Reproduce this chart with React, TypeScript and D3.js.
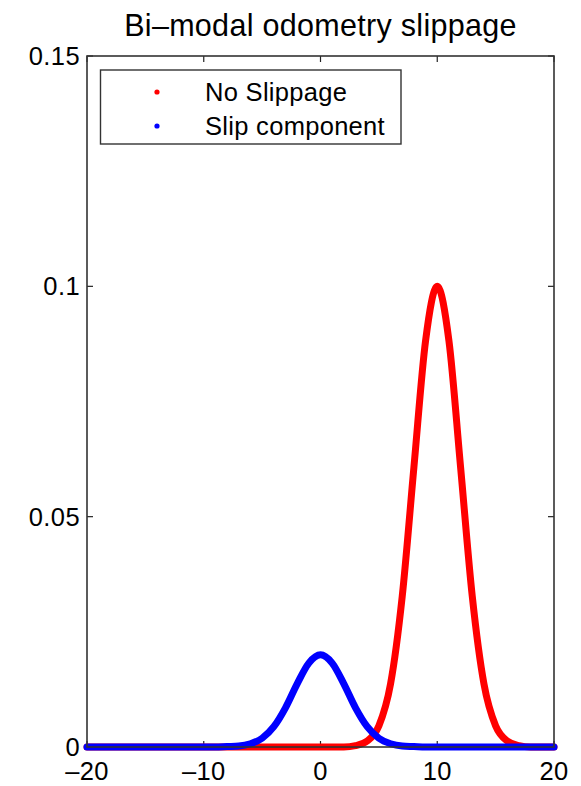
import React from "react";
import * as d3 from "d3";

// values
const xValues = [
  -20, -19, -18, -17, -16, -15, -14, -13, -12, -11, -10, -9, -8, -7, -6, -5, -4, -3, -2, -1,
  0, 1, 2, 3, 4, 5, 6, 7, 8, 9, 10, 11, 12, 13, 14, 15, 16, 17, 18, 19, 20,
];
const noSlippage = [
  0, 0, 0, 0, 0, 0, 0, 0, 0, 0, 0, 0, 0, 0, 0, 0, 0, 0, 0, 0,
  0, 0, 0, 0.0003, 0.0013, 0.0046, 0.0137, 0.0327, 0.0607, 0.0882, 0.1, 0.0882, 0.0607, 0.0327, 0.0137, 0.0046, 0.0013, 0.0003, 0, 0, 0,
];
const slipComponent = [
  0, 0, 0, 0, 0, 0, 0, 0, 0, 0, 0, 0, 0.0001, 0.0002, 0.0007, 0.0019, 0.0044, 0.0085, 0.0137, 0.0182,
  0.02, 0.0182, 0.0137, 0.0085, 0.0044, 0.0019, 0.0007, 0.0002, 0.0001, 0, 0, 0, 0, 0, 0, 0, 0, 0, 0, 0, 0,
];
const seriesNames = ["No Slippage", "Slip component"];
const seriesColors = ["#ff0000", "#0000ff"];
const xTicks = [-20, -10, 0, 10, 20];
const yTicks = [0, 0.05, 0.1, 0.15];
const title = "Bi\u2013modal odometry slippage";

const W = 581;
const H = 786;
const left = 87;
const right = 554;
const top = 56;
const bottom = 747;
const font = "'Liberation Sans', Arial, Helvetica, sans-serif";
const tickLen = 6;

const fmtX = (v: number) => (v < 0 ? "\u2013" + Math.abs(v) : String(v));
const fmtY = (v: number) => (v === 0 ? "0" : String(v));

export default function App() {
  const x = d3.scaleLinear().domain([-20, 20]).range([left, right]);
  const y = d3.scaleLinear().domain([0, 0.15]).range([bottom, top]);

  const line = d3
    .line<number>()
    .x((_, i) => x(xValues[i]))
    .y((d) => y(d))
    .curve(d3.curveMonotoneX);

  const series = [noSlippage, slipComponent];

  return (
    <svg
      width={W}
      height={H}
      style={{ position: "absolute", left: 0, top: 0, background: "#fff" }}
      fontFamily={font}
    >
      <rect x={0} y={0} width={W} height={H} fill="#fff" />
      <text
        x={(left + right) / 2}
        y={36}
        textAnchor="middle"
        fontSize={30.5}
        letterSpacing={0.3}
        fill="#000"
      >
        {title}
      </text>

      {/* ticks, inward on all four sides */}
      <g stroke="#222" strokeWidth={1.2}>
        {xTicks.map((t) => (
          <g key={"xt" + t}>
            <line x1={x(t)} x2={x(t)} y1={bottom} y2={bottom - tickLen} />
            <line x1={x(t)} x2={x(t)} y1={top} y2={top + tickLen} />
          </g>
        ))}
        {yTicks.map((t) => (
          <g key={"yt" + t}>
            <line x1={left} x2={left + tickLen} y1={y(t)} y2={y(t)} />
            <line x1={right} x2={right - tickLen} y1={y(t)} y2={y(t)} />
          </g>
        ))}
      </g>

      {series.map((s, i) => (
        <path
          key={seriesNames[i]}
          d={line(s) || ""}
          fill="none"
          stroke={seriesColors[i]}
          strokeWidth={7}
          strokeLinejoin="round"
          strokeLinecap="round"
        />
      ))}

      <rect
        x={left}
        y={top}
        width={right - left}
        height={bottom - top}
        fill="none"
        stroke="#333"
        strokeWidth={1.6}
      />

      <g fontSize={25.5} letterSpacing={0.4} fill="#000">
        {xTicks.map((t) => (
          <text key={"xl" + t} x={x(t)} y={780} textAnchor="middle">
            {fmtX(t)}
          </text>
        ))}
        {yTicks.map((t) => (
          <text key={"yl" + t} x={80} y={y(t) + 9} textAnchor="end">
            {fmtY(t)}
          </text>
        ))}
      </g>

      <g>
        <rect x={100.5} y={70} width={300.5} height={74} fill="#fff" stroke="#333" strokeWidth={1.4} />
        {seriesNames.map((n, i) => (
          <g key={"lg" + n}>
            <circle cx={157} cy={92 + i * 34} r={2.6} fill={seriesColors[i]} />
            <text x={205} y={101 + i * 34} fontSize={25.5} letterSpacing={0.3} fill="#000">
              {n}
            </text>
          </g>
        ))}
      </g>
    </svg>
  );
}
